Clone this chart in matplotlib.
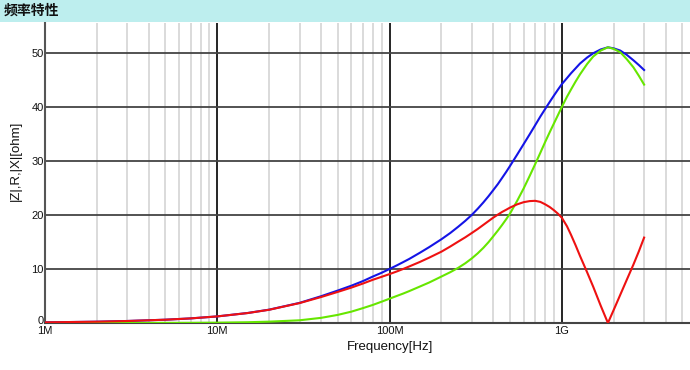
import matplotlib
matplotlib.use("Agg")
import matplotlib.pyplot as plt
from matplotlib.patches import Rectangle
from matplotlib.transforms import ScaledTranslation
from matplotlib.ticker import LogLocator, FixedLocator, FixedFormatter, NullFormatter

plt.rcParams['font.family'] = ['Liberation Sans', 'DejaVu Sans']

title = "频率特性"
xlabel = "Frequency[Hz]"
ylabel = "|Z|,R,|X|[ohm]"

freq_mhz = [1, 2, 3, 5, 7, 10, 15, 20, 30, 40, 50, 60, 70, 80,
            90, 100, 110, 120, 130, 150, 170, 200,
            225, 250, 275, 300, 325, 350, 375, 400, 425, 450, 475, 500,
            550, 600, 650, 700, 750, 800, 850, 900, 950, 1000,
            1070, 1130, 1200, 1274, 1400, 1520, 1680, 1850,
            2000, 2180, 2380, 2600, 2800, 3000]
z_abs = [0.12, 0.24, 0.37, 0.61, 0.85, 1.22, 1.85, 2.47, 3.72, 4.95, 6.0, 6.9, 7.75, 8.6,
         9.3, 10.0, 10.65, 11.27, 11.85, 13.0, 14.05, 15.5,
         16.65, 17.8, 18.9, 20.0, 21.15, 22.3, 23.45, 24.6, 25.7, 26.85, 27.95, 29.05,
         31.15, 33.1, 34.9, 36.6, 38.2, 39.6, 40.9, 42.1, 43.2, 44.2,
         45.3, 46.2, 47.1, 48.0, 49.1, 49.9, 50.6, 51.0,
         50.8, 50.4, 49.6, 48.6, 47.7, 46.8]
x_abs = [0.12, 0.24, 0.37, 0.61, 0.85, 1.22, 1.84, 2.45, 3.68, 4.8, 5.75, 6.55, 7.3, 8.0,
         8.55, 9.05, 9.53, 10.0, 10.46, 11.3, 12.1, 13.2,
         14.15, 15.05, 15.85, 16.65, 17.4, 18.15, 18.85, 19.5, 20.05, 20.55, 20.95, 21.35,
         21.95, 22.35, 22.55, 22.6, 22.4, 21.95, 21.45, 20.85, 20.2, 19.45,
         17.9, 16.3, 14.4, 12.4, 9.4, 6.7, 3.2, 0.0,
         2.45, 5.2, 8.0, 10.8, 13.3, 15.8]
r_val = [0.0, 0.0, 0.01, 0.02, 0.03, 0.06, 0.14, 0.25, 0.5, 0.95, 1.5, 2.1, 2.75, 3.35,
         3.95, 4.5, 5.0, 5.45, 5.9, 6.75, 7.5, 8.6,
         9.4, 10.2, 11.05, 11.95, 12.9, 13.9, 14.95, 16.05, 17.1, 18.15, 19.2, 20.25,
         22.6, 24.9, 27.2, 29.4, 31.5, 33.5, 35.3, 36.95, 38.5, 40.0,
         41.85, 43.2, 44.65, 46.0, 47.9, 49.3, 50.4, 51.0,
         50.7, 50.1, 48.8, 47.3, 45.7, 44.1]

xtick_vals = [1e6, 1e7, 1e8, 1e9]
xtick_labels = ["1M", "10M", "100M", "1G"]
ytick_vals = [0, 10, 20, 30, 40, 50]

W, H = 690, 370
fig = plt.figure(figsize=(W / 100, H / 100), dpi=100)

# header band
fig.patches.append(Rectangle((0, 1 - 22 / H), 1, 22 / H, transform=fig.transFigure,
                             facecolor='#bdeeee', edgecolor='none', zorder=0))
fig.text(4 / W, 1 - 11 / H, title, fontsize=10, fontweight='bold',
         family=['Noto Sans CJK SC', 'DejaVu Sans'], va='center', ha='left',
         color='#111111')

left, right, top, bottom = 45, 690, 23, 323
ax = fig.add_axes([left / W, 1 - bottom / H, (right - left) / W, (bottom - top) / H])

freq = [f * 1e6 for f in freq_mhz]
ax.plot(freq, z_abs, color='#1414e6', lw=1.5, zorder=3, solid_joinstyle='round')
ax.plot(freq, r_val, color='#66e600', lw=1.5, zorder=4, solid_joinstyle='round')
ax.plot(freq, x_abs, color='#ee1111', lw=1.5, zorder=5, solid_joinstyle='miter')

ax.set_xscale('log')
ax.set_xlim(1e6, 1e6 * 10 ** (645 / 172.3))
ax.set_ylim(0, (bottom - top) / 5.406)

ax.xaxis.set_major_locator(FixedLocator(xtick_vals))
ax.xaxis.set_major_formatter(FixedFormatter(xtick_labels))
ax.xaxis.set_minor_locator(LogLocator(base=10, subs=range(2, 10), numticks=20))
ax.xaxis.set_minor_formatter(NullFormatter())
ax.set_yticks(ytick_vals)

ax.tick_params(axis='both', which='both', length=0)
ax.tick_params(axis='x', labelsize=8, pad=2.5, colors='#111111')
ax.tick_params(axis='y', labelsize=8, pad=1, colors='#111111')

# nudge the "0" label up a little, as in the reference
zero_tick = ax.yaxis.get_major_ticks()[0]
zero_tick.label1.set_transform(zero_tick.label1.get_transform()
                               + ScaledTranslation(0, 2.5 / 100, fig.dpi_scale_trans))

ax.grid(True, which='minor', axis='x', color='#d4d4d4', lw=1.2, zorder=1)
ax.grid(True, which='major', axis='x', color='#000000', lw=1.2, zorder=2)
ax.grid(True, which='major', axis='y', color='#444444', lw=1.3, zorder=2)
ax.set_axisbelow(True)

for s in ['top', 'right']:
    ax.spines[s].set_visible(False)
ax.spines['left'].set_color('#555555')
ax.spines['left'].set_linewidth(1.5)
ax.spines['bottom'].set_color('#444444')
ax.spines['bottom'].set_linewidth(1.5)

fig.text(390 / W, 1 - 347 / H, xlabel, fontsize=9.5, ha='center', va='center',
         color='#111111')
fig.text(16 / W, 1 - 161 / H, ylabel, fontsize=9.5, ha='center', va='center',
         rotation=90, color='#111111')

fig.savefig('out.png', dpi=100)
